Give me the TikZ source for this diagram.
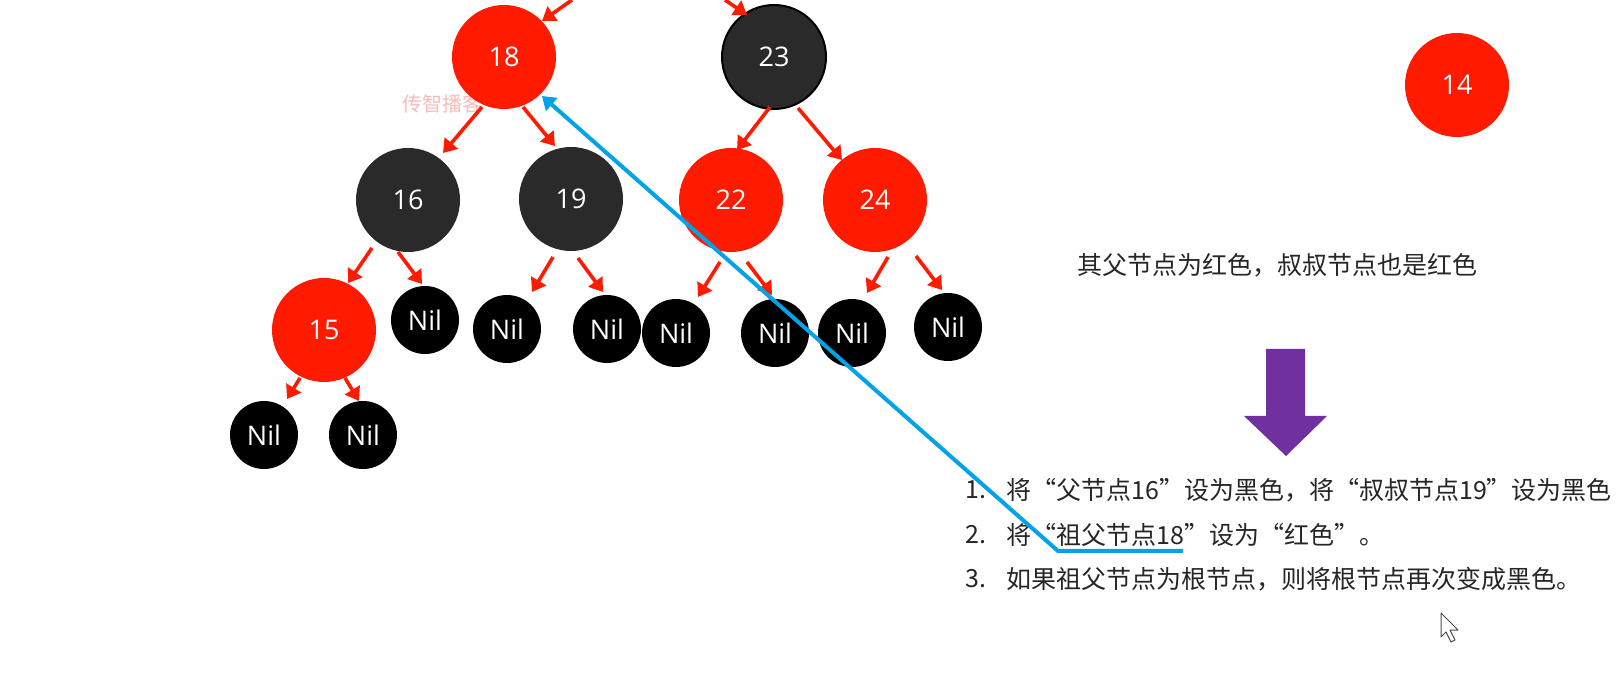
\documentclass[tikz,border=0pt]{standalone}
\usepackage{fontspec}
\setmainfont{Noto Sans CJK SC}
\newfontfamily\latfont{Open Sans}
\usetikzlibrary{arrows.meta,calc}
\definecolor{rbred}{HTML}{FF1A00}
\definecolor{rbdark}{HTML}{2A2A2A}
\definecolor{cblue}{HTML}{00A2E8}
\definecolor{apurple}{HTML}{7030A0}
\definecolor{wmark}{HTML}{F8BCBC}
\definecolor{txt}{HTML}{262626}
\tikzset{
  rbnode/.style={circle, inner sep=0pt, minimum size=52pt, text=white,
    font=\latfont\fontsize{13.5}{13.5}\selectfont},
  rednode/.style={rbnode, fill=rbred},
  darknode/.style={rbnode, fill=rbdark},
  nilnode/.style={rbnode, fill=black, minimum size=34pt},
  rbarrow/.style={draw=rbred, line width=1.8pt, -{Triangle[length=6.5pt,width=8.5pt]}},
  bluearrow/.style={draw=cblue, line width=2pt, -{Triangle[length=6.5pt,width=8.5pt]}},
  cjktext/.style={text=txt, inner sep=0pt, font=\fontsize{12.5}{15}\selectfont},
}
\begin{document}
\begin{tikzpicture}[x=0.5pt,y=-0.5pt]
\useasboundingbox[fill=white] (0,0) rectangle (1618,678);
% watermark
\node[text=wmark, inner sep=0pt, anchor=west, font=\fontsize{10}{10}\selectfont] (wm) at (402,104) {传智播客};
% nodes
\node[rednode] (n18) at (504,57) {18};
\node[darknode, draw=black, line width=1pt] (n23) at (774,57) {23};
\node[rednode] (n14) at (1457,85) {14};
\node[darknode] (n16) at (408,200) {16};
\node[darknode] (n19) at (571,199) {19};
\node[rednode] (n22) at (731,200) {22};
\node[rednode] (n24) at (875,200) {24};
\node[rednode] (n15) at (324,330) {15};
\node[nilnode] (nA) at (425,320) {Nil};
\node[nilnode] (nB) at (507,329) {Nil};
\node[nilnode] (nC) at (607,329) {Nil};
\node[nilnode] (nD) at (676,333) {Nil};
\node[nilnode] (nE) at (775,333) {Nil};
\node[nilnode] (nF) at (852,333) {Nil};
\node[nilnode] (nG) at (948,327) {Nil};
\node[nilnode] (nH) at (264,435) {Nil};
\node[nilnode] (nI) at (363,435) {Nil};
% incoming arrows from above
\coordinate (top18) at (572,0);
\coordinate (top23) at (725,0);
\draw[rbarrow] (top18) -- ($(n18)+(38,-36)$);
\draw[rbarrow] (top23) -- ($(n23)+(-27,-42)$);
% tree arrows
\draw[rbarrow] ($(n18)+(-22,50)$) -- ($(n16)+(35,-47)$);
\draw[rbarrow] ($(n18)+(19,50)$) -- ($(n19)+(-16,-53)$);
\draw[rbarrow] ($(n23)+(-4,50)$) -- ($(n22)+(6,-50)$);
\draw[rbarrow] ($(n23)+(24,51)$) -- ($(n24)+(-33,-40)$);
\draw[rbarrow] ($(n16)+(-36,48)$) -- ($(n15)+(24,-47)$);
\draw[rbarrow] ($(n16)+(-10,52)$) -- ($(nA)+(-3,-36)$);
\draw[rbarrow] ($(n19)+(-18,58)$) -- ($(nB)+(25,-37)$);
\draw[rbarrow] ($(n19)+(7,59)$) -- ($(nC)+(-4,-37)$);
\draw[rbarrow] ($(n22)+(-11,62)$) -- ($(nD)+(22,-36)$);
\draw[rbarrow] ($(n22)+(16,62)$) -- ($(nE)+(-3,-38)$);
\draw[rbarrow] ($(n24)+(13,57)$) -- ($(nF)+(15,-40)$);
\draw[rbarrow] ($(n24)+(41,56)$) -- ($(nG)+(-6,-37)$);
\draw[rbarrow] ($(n15)+(-24,48)$) -- ($(nH)+(23,-36)$);
\draw[rbarrow] ($(n15)+(21,48)$) -- ($(nI)+(-4,-34)$);
% condition text
\node[cjktext] (cond) at (1277,265) {其父节点为红色，叔叔节点也是红色};
% purple arrow
\fill[apurple] (1266,349) -- (1305,349) -- (1305,416) -- (1327,416) -- (1286,456)
  -- (1244,416) -- (1266,416) -- cycle;
% list
\node[cjktext, anchor=west] (num1) at (965,490) {1.};
\node[cjktext, anchor=west] (item1) at (1006,490) {将“父节点16”设为黑色，将“叔叔节点19”设为黑色};
\node[cjktext, anchor=west] (num2) at (965,535) {2.};
\node[cjktext, anchor=west] (item2) at (1006,535) {将“祖父节点18”设为“红色”。};
\node[cjktext, anchor=west] (num3) at (965,579) {3.};
\node[cjktext, anchor=west] (item3) at (1006,579) {如果祖父节点为根节点，则将根节点再次变成黑色。};
% blue connector
\coordinate (ulend) at (1183,551);
\coordinate (ulcorner) at (1058,551);
\draw[bluearrow, line join=round] (ulend) -- (ulcorner) -- ($(n18)+(38,39)$);
% mouse cursor
\draw[fill=white, draw=black!70, line width=0.5pt, line join=round] (1441,613) -- ++(0,24) -- ++(5,-5) -- ++(5,10) -- ++(4,-2) -- ++(-5,-10) -- ++(8,0) -- cycle;
\end{tikzpicture}
\end{document}
